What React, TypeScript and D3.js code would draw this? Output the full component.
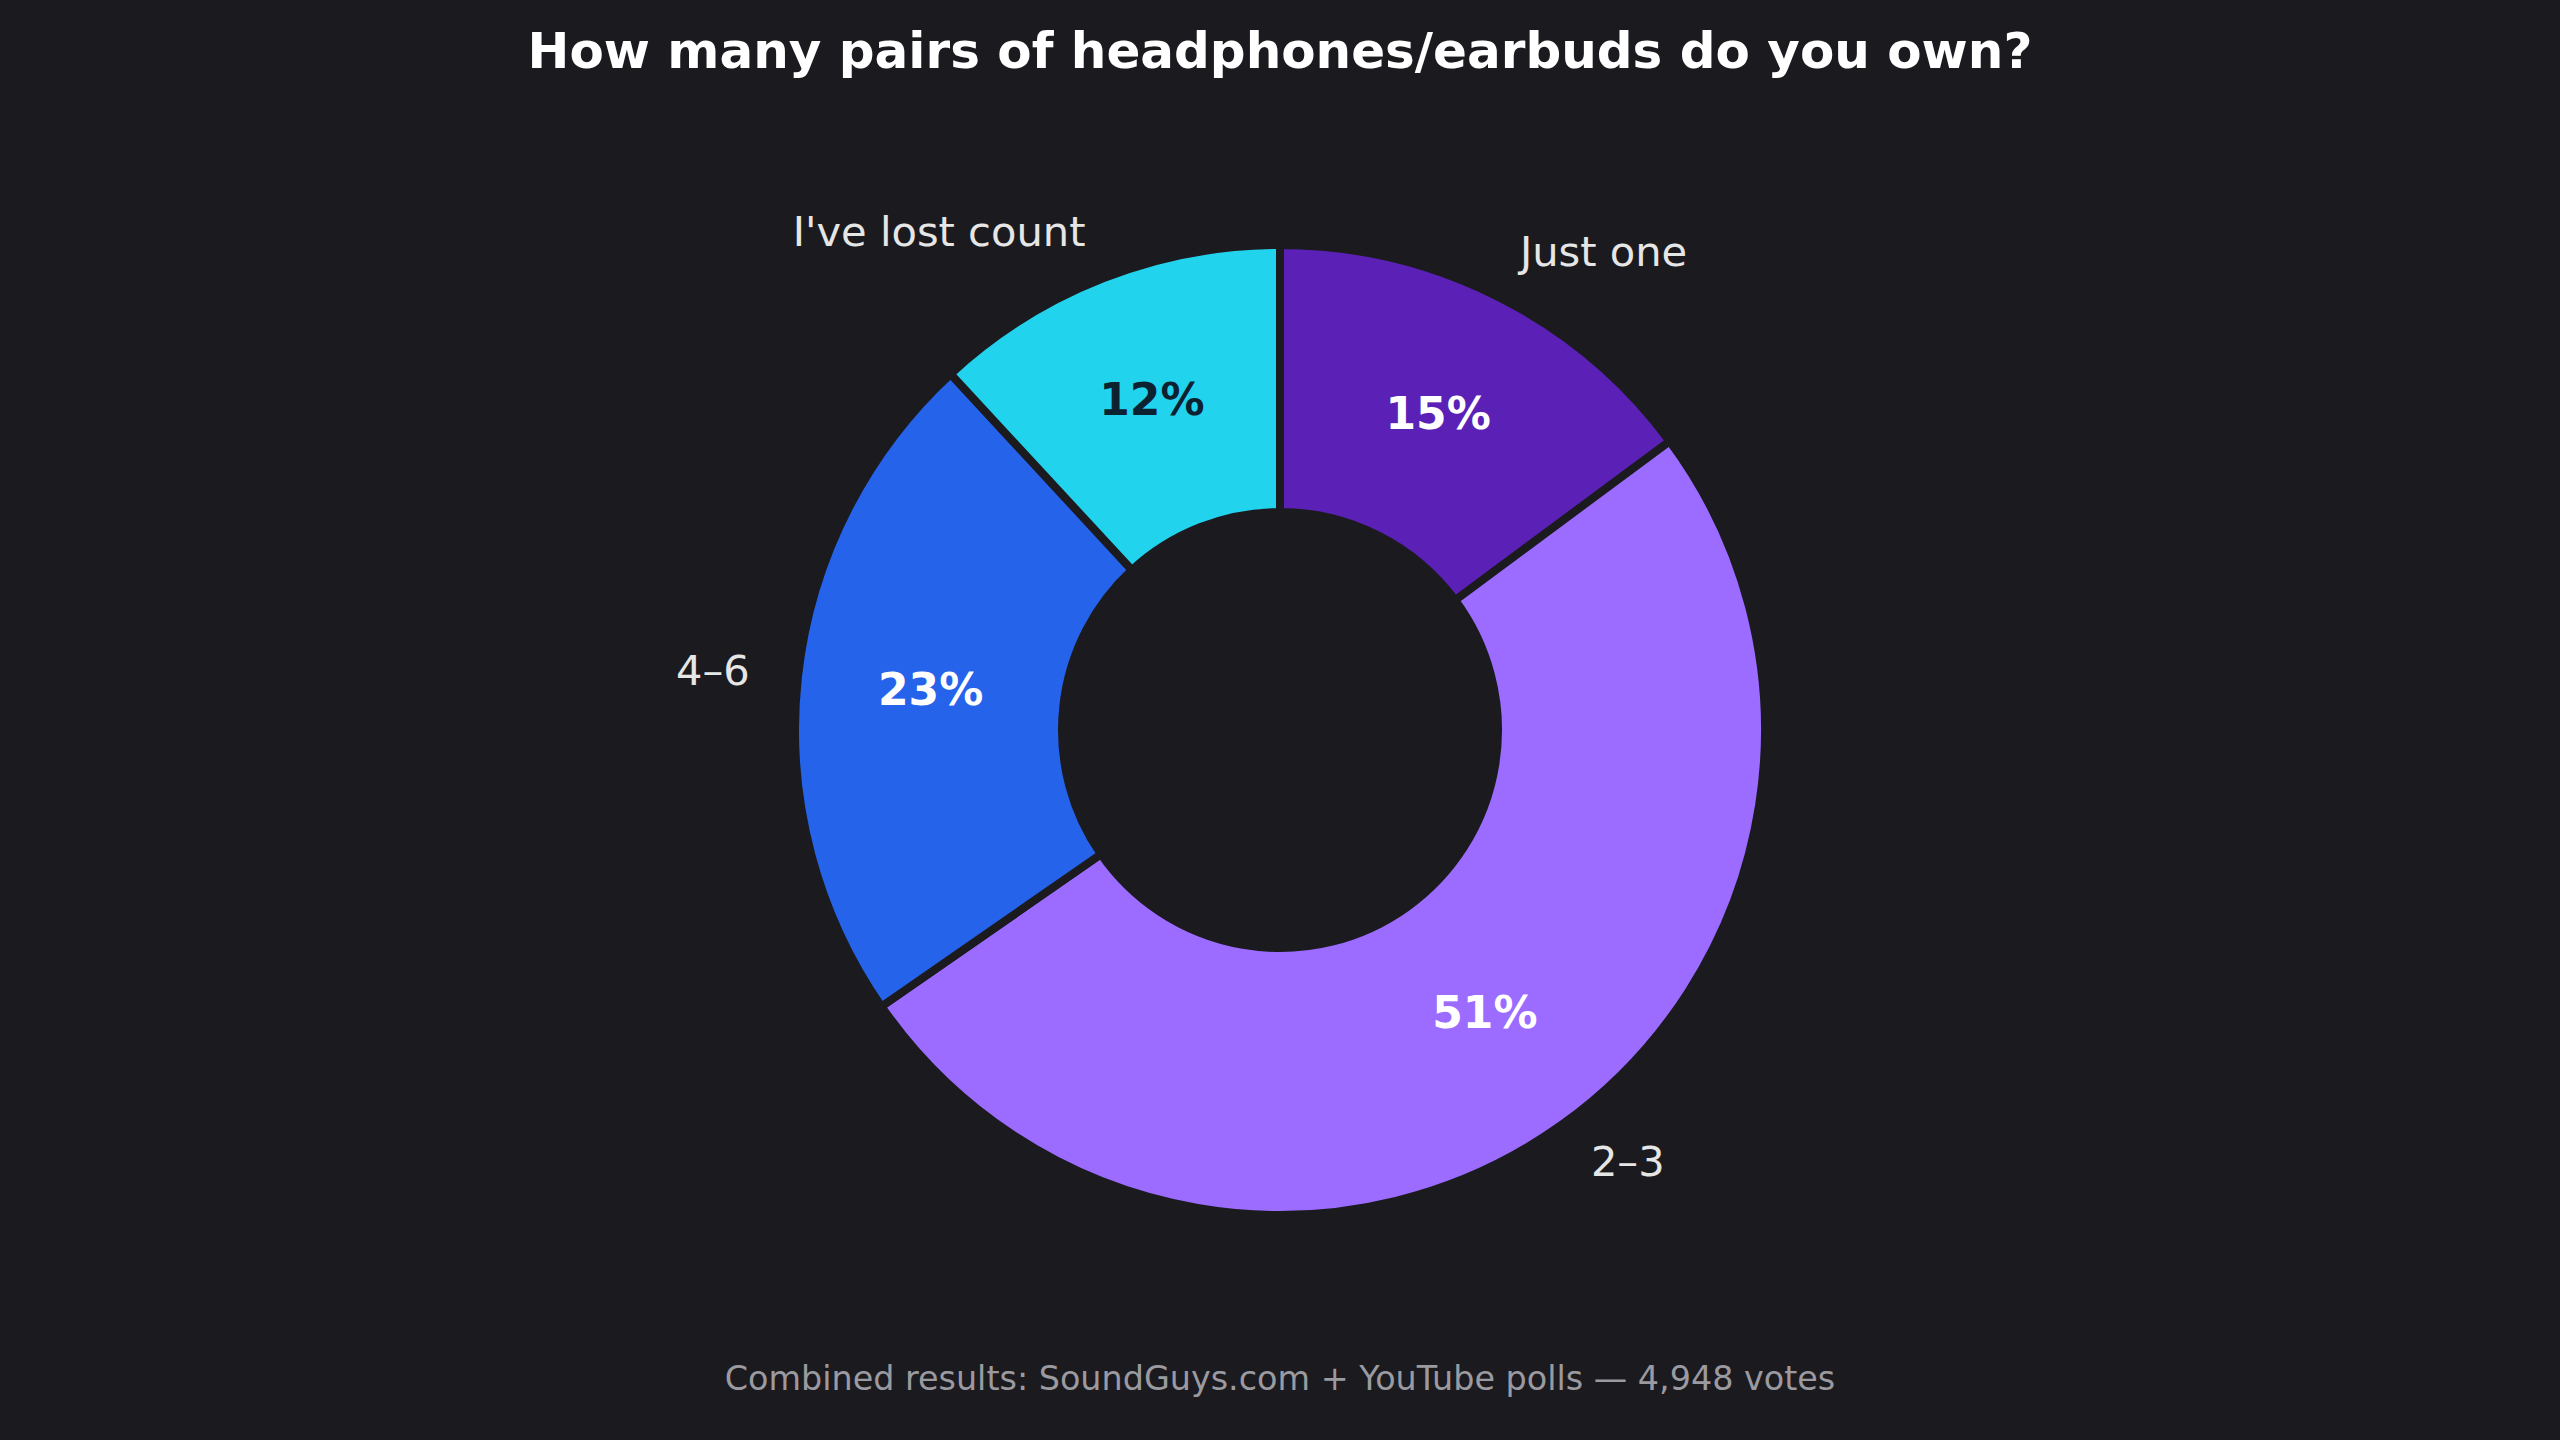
import React from "react";
import * as d3 from "d3";

// poll answers, clockwise from 12 o'clock
const categories = ["Just one", "2–3", "4–6", "I've lost count"];
const shares = [15, 51, 23, 12];
const sliceColors = ["#5b21b6", "#9b6cff", "#2563eb", "#22d3ee"];
const pctColors = ["#ffffff", "#ffffff", "#ffffff", "#0d2231"];

const title = "How many pairs of headphones/earbuds do you own?";
const footnote = "Combined results: SoundGuys.com + YouTube polls — 4,948 votes";

const W = 2560;
const H = 1440;
const BG = "#1b1a1f";
const FONT = "'DejaVu Sans', sans-serif";

const App = () => {
  const cx = 1280;
  const cy = 730;
  const outerR = 485;
  const innerR = 218;
  const labelR = outerR * 1.1;
  const pctR = (outerR + innerR) / 2;

  const pie = d3
    .pie<number>()
    .sort(null)
    .startAngle(0)
    .endAngle(2 * Math.PI);
  const arcs = pie(shares);

  const arc = d3.arc<d3.PieArcDatum<number>>().innerRadius(innerR).outerRadius(outerR);

  const polar = (r: number, a: number) => [r * Math.sin(a), -r * Math.cos(a)];

  return (
    <svg
      width={W}
      height={H}
      style={{ display: "block", position: "absolute", left: 0, top: 0 }}
    >
      <rect width={W} height={H} fill={BG} />
      <text
        x={W / 2}
        y={68}
        textAnchor="middle"
        fontFamily={FONT}
        fontWeight="bold"
        fontSize={50}
        fill="#ffffff"
      >
        {title}
      </text>

      <g transform={`translate(${cx},${cy})`}>
        {arcs.map((d, i) => (
          <path
            key={categories[i]}
            d={arc(d) || ""}
            fill={sliceColors[i]}
            stroke={BG}
            strokeWidth={8}
            strokeLinejoin="miter"
          />
        ))}
        {arcs.map((d, i) => {
          const mid = (d.startAngle + d.endAngle) / 2;
          const [lx, ly] = polar(labelR, mid);
          const [px, py] = polar(pctR, mid);
          return (
            <g key={"lbl-" + categories[i]}>
              <text
                x={lx}
                y={ly}
                dy="0.3em"
                textAnchor={lx >= 0 ? "start" : "end"}
                fontFamily={FONT}
                fontSize={41.6}
                fill="#e6e6e6"
              >
                {categories[i]}
              </text>
              <text
                x={px}
                y={py}
                dy="0.29em"
                textAnchor="middle"
                fontFamily={FONT}
                fontWeight="bold"
                fontSize={44}
                fill={pctColors[i]}
              >
                {`${shares[i]}%`}
              </text>
            </g>
          );
        })}
      </g>

      <text
        x={W / 2}
        y={1390}
        textAnchor="middle"
        fontFamily={FONT}
        fontSize={33.4}
        fill="#9a9aa0"
      >
        {footnote}
      </text>
    </svg>
  );
};

export default App;
